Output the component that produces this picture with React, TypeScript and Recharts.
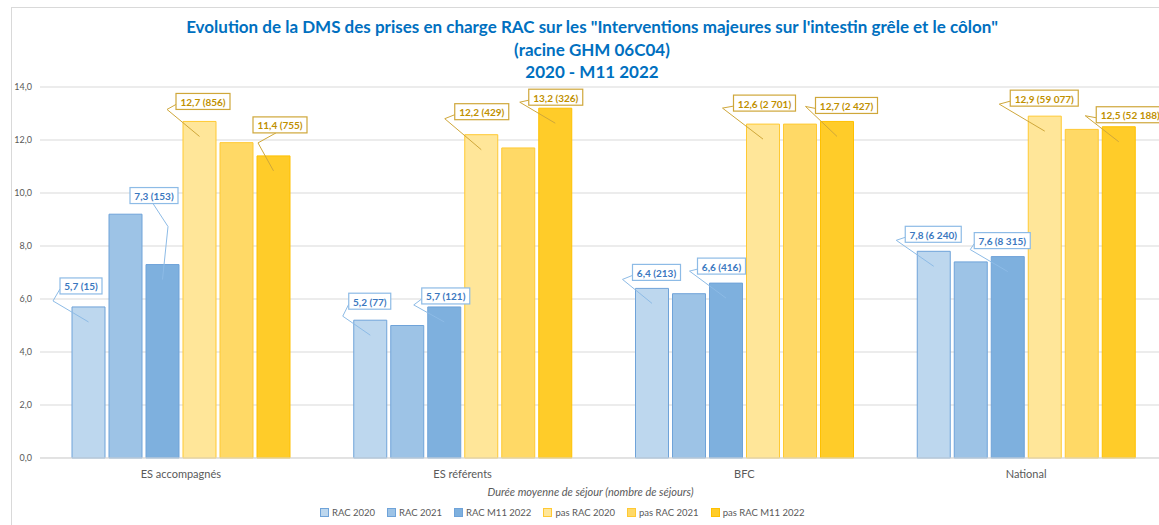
import { BarChart, Bar, XAxis, YAxis, CartesianGrid, Legend, LabelList } from "recharts";

const FONT = "Lato, 'Open Sans', Arial, sans-serif";

const CATEGORIES = ["ES accompagnés", "ES référents", "BFC", "National"];

// DMS (jours)
const RAC_2020 = [5.7, 5.2, 6.4, 7.8];
const RAC_2021 = [9.2, 5.0, 6.2, 7.4];
const RAC_M11_2022 = [7.3, 5.7, 6.6, 7.6];
const PAS_RAC_2020 = [12.7, 12.2, 12.6, 12.9];
const PAS_RAC_2021 = [11.9, 11.7, 12.6, 12.4];
const PAS_RAC_M11_2022 = [11.4, 13.2, 12.7, 12.5];

// nombre de séjours, affiché entre parenthèses dans les étiquettes
const N_RAC_2020 = [15, 77, 213, 6240];
const N_RAC_M11_2022 = [153, 121, 416, 8315];
const N_PAS_RAC_2020 = [856, 429, 2701, 59077];
const N_PAS_RAC_M11_2022 = [755, 326, 2427, 52188];

const Y_TICKS = [0, 2, 4, 6, 8, 10, 12, 14];

const data = CATEGORIES.map((name, i) => ({
  name,
  rac2020: RAC_2020[i],
  rac2021: RAC_2021[i],
  racM11: RAC_M11_2022[i],
  pas2020: PAS_RAC_2020[i],
  pas2021: PAS_RAC_2021[i],
  pasM11: PAS_RAC_M11_2022[i],
}));

const BLUE_TXT = { text: "#3b78bf", border: "#8dbbe6" };
const GOLD_TXT = { text: "#bf9000", border: "#cfa73a" };

const SERIES = [
  { key: "rac2020", name: "RAC 2020", fill: "#bdd7ee", stroke: "#6fa3d9", counts: N_RAC_2020, lbl: BLUE_TXT },
  { key: "rac2021", name: "RAC 2021", fill: "#9dc3e6", stroke: "#6fa3d9" },
  { key: "racM11", name: "RAC M11 2022", fill: "#7eb0de", stroke: "#6fa3d9", counts: N_RAC_M11_2022, lbl: BLUE_TXT },
  { key: "pas2020", name: "pas RAC 2020", fill: "#ffe699", stroke: "#ffc933", counts: N_PAS_RAC_2020, lbl: GOLD_TXT },
  { key: "pas2021", name: "pas RAC 2021", fill: "#ffd966", stroke: "#ffc933" },
  { key: "pasM11", name: "pas RAC M11 2022", fill: "#ffcc29", stroke: "#ffc000", counts: N_PAS_RAC_M11_2022, lbl: GOLD_TXT },
];

// placement manuel des étiquettes (comme dans Excel) :
// [dx boîte, dy boîte, dx coude, dy coude] relatifs au coin haut-gauche de la barre
const LABEL_OFFSETS: Record<string, number[][]> = {
  rac2020: [[-12, -13, -19, -6], [-5, -11, -11, -4], [-3, -8, -13, -9], [-12, -9, -21, -11]],
  racM11: [[-16, -61, 22, -38], [-6, -3, -14, -2], [-12, -9, -20, -12], [-17, -8, -21, -7]],
  pas2020: [[-7, -12, -16, -12], [-10, -15, -20, -16], [-13, -13, -24, -16], [-18, -10, -29, -12]],
  pasM11: [[-4, -23, 1, -13], [-10, -3, -19, -6], [-5, -8, -15, -15], [-6, -4, -17, -11]],
};

const fmtDec = (v: number) => v.toFixed(1).replace(".", ",");
const fmtInt = (n: number) => String(n).replace(/\B(?=(\d{3})+(?!\d))/g, " ");

function textWidth(s: string) {
  let w = 0;
  for (const c of s) {
    if (/\d/.test(c)) w += 5.8;
    else if (c === "(" || c === ")") w += 3;
    else w += 2.5;
  }
  return w;
}

function makeLabel(key: string, counts: number[], col: { text: string; border: string }) {
  // eslint-disable-next-line @typescript-eslint/no-explicit-any
  return (props: any) => {
    const { x, y, width, index, value } = props;
    const off = LABEL_OFFSETS[key]?.[index];
    if (!off) return null;
    const txt = `${fmtDec(Number(value))} (${fmtInt(counts[index])})`;
    const bw = Math.round(textWidth(txt) + 8);
    const bh = 16;
    const bx = x + off[0];
    const bottom = y + off[1];
    const by = bottom - bh;
    const ex = x + off[2];
    const ey = y + off[3];
    const below = ey > bottom && ex > bx && ex < bx + bw;
    const ax = below ? bx + 23 : bx;
    const ay = below ? bottom : bottom - 5;
    const tx = x + width / 2;
    const ty = y + 15;
    return (
      <g>
        <polyline
          points={`${ax},${ay} ${ex},${ey} ${tx},${ty}`}
          fill="none"
          stroke={col.border}
          strokeWidth={1}
        />
        <rect x={bx} y={by} width={bw} height={bh} fill="#fff" stroke={col.border} strokeWidth={1.2} />
        <text
          x={bx + bw / 2}
          y={by + bh / 2 + 0.5}
          textAnchor="middle"
          dominantBaseline="central"
          fontSize={10}
          fontWeight={700}
          fontFamily={FONT}
          fill={col.text}
        >
          {txt}
        </text>
      </g>
    );
  };
}

function LegendContent() {
  return (
    <div
      style={{
        display: "flex",
        alignItems: "center",
        height: 18,
        paddingLeft: 312,
        fontFamily: FONT,
        fontSize: 9.5,
        color: "#595959",
      }}
    >
      {SERIES.map((s) => (
        <div key={s.key} style={{ display: "flex", alignItems: "center", marginRight: 12 }}>
          <span
            style={{
              display: "inline-block",
              width: 7,
              height: 7,
              background: s.fill,
              border: `1px solid ${s.stroke}`,
              marginRight: 3,
            }}
          />
          {s.name}
        </div>
      ))}
    </div>
  );
}

export default function App() {
  return (
    <div
      style={{
        position: "absolute",
        left: 0,
        top: 0,
        width: 1159,
        height: 525,
        background: "#fff",
        overflow: "hidden",
        fontFamily: FONT,
      }}
    >
      {/* cadre du graphique */}
      <div
        style={{
          position: "absolute",
          left: 11,
          top: 7,
          width: 1200,
          height: 600,
          border: "1px solid #d9d9d9",
        }}
      />
      <div
        style={{
          position: "absolute",
          left: 12,
          top: 16,
          width: 1160,
          textAlign: "center",
          color: "#0070c0",
          fontWeight: 700,
          fontSize: 17,
          lineHeight: "22.5px",
        }}
      >
        <div>
          Evolution de la DMS des prises en charge RAC sur les "Interventions majeures sur l'intestin grêle et le côlon"
        </div>
        <div>(racine GHM 06C04)</div>
        <div>2020 - M11 2022</div>
      </div>
      <div style={{ position: "absolute", left: 0, top: 0 }}>
        <BarChart
          width={1167}
          height={525}
          data={data}
          margin={{ top: 87, right: 0, bottom: 4, left: 8 }}
          barSize={33}
          barGap={4}
        >
          <CartesianGrid vertical={false} stroke="#d9d9d9" />
          <XAxis
            dataKey="name"
            height={45}
            tickLine={false}
            tickSize={0}
            tickMargin={12}
            axisLine={{ stroke: "#d9d9d9" }}
            tick={{ fill: "#595959", fontSize: 11, fontFamily: FONT }}
            label={{
              value: "Durée moyenne de séjour (nombre de séjours)",
              position: "insideBottom",
              offset: 7,
              dx: -13,
              fill: "#595959",
              fontSize: 11,
              fontStyle: "italic",
              fontFamily: FONT,
            }}
          />
          <YAxis
            type="number"
            domain={[0, 14]}
            ticks={Y_TICKS}
            interval={0}
            width={32}
            tickLine={false}
            axisLine={false}
            tickSize={0}
            tickMargin={8}
            tickFormatter={(v: number) => fmtDec(v)}
            tick={{ fill: "#595959", fontSize: 9, fontFamily: FONT }}
          />
          <Legend verticalAlign="bottom" content={<LegendContent />} />
          {SERIES.map((s) => (
            <Bar
              key={s.key}
              dataKey={s.key}
              name={s.name}
              fill={s.fill}
              stroke={s.stroke}
              strokeWidth={1}
              isAnimationActive={false}
            >
              {s.counts && s.lbl && <LabelList dataKey={s.key} content={makeLabel(s.key, s.counts, s.lbl)} />}
            </Bar>
          ))}
        </BarChart>
      </div>
    </div>
  );
}
